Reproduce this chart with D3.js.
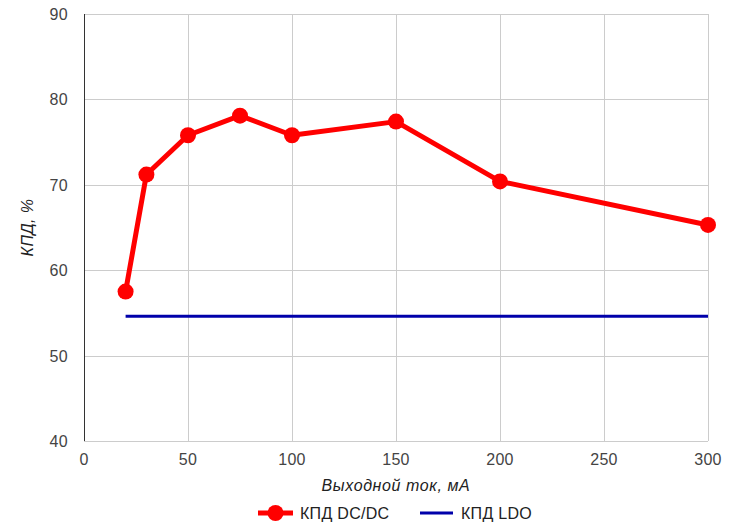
<!DOCTYPE html>
<html><head><meta charset="utf-8">
<script src="https://cdn.jsdelivr.net/npm/d3@7"></script>
<style>body{margin:0;background:#fff;}svg{display:block;font-family:"Liberation Sans",Arial,sans-serif;}</style>
</head><body>
<script>
const currents = [20, 30, 50, 75, 100, 150, 200, 300];
const dcdcEff = [57.5, 71.2, 75.8, 78.1, 75.8, 77.4, 70.4, 65.3];
const ldoEff = [54.6, 54.6, 54.6, 54.6, 54.6, 54.6, 54.6, 54.6];
const xTicks = [0, 50, 100, 150, 200, 250, 300];
const yTicks = [40, 50, 60, 70, 80, 90];
const seriesNames = ["КПД DC/DC", "КПД LDO"];
const xTitle = "Выходной ток, мА";
const yTitle = "КПД, %";

const W = 735, H = 522;
const m = {l: 84, r: 27, t: 14, b: 81};
const svg = d3.select("body").append("svg").attr("width", W).attr("height", H);
const x = d3.scaleLinear().domain([0, 300]).range([m.l, W - m.r]);
const y = d3.scaleLinear().domain([40, 90]).range([H - m.b, m.t]);

// grid
svg.append("g").selectAll("line").data(xTicks.slice(1)).join("line")
  .attr("x1", d => Math.round(x(d)) + 0.5).attr("x2", d => Math.round(x(d)) + 0.5)
  .attr("y1", y(90)).attr("y2", y(40)).attr("stroke", "#cccccc").attr("stroke-width", 1);
svg.append("g").selectAll("line").data(yTicks).join("line")
  .attr("x1", x(0)).attr("x2", x(300))
  .attr("y1", d => Math.round(y(d)) + 0.5).attr("y2", d => Math.round(y(d)) + 0.5)
  .attr("stroke", "#cccccc").attr("stroke-width", 1);
// left axis line
svg.append("line").attr("x1", Math.round(x(0)) + 0.5).attr("x2", Math.round(x(0)) + 0.5)
  .attr("y1", y(90)).attr("y2", y(40)).attr("stroke", "#333").attr("stroke-width", 1);

// tick labels
svg.append("g").selectAll("text").data(yTicks).join("text")
  .attr("x", x(0) - 16).attr("y", d => y(d) + 6).attr("text-anchor", "end")
  .attr("font-size", 16).attr("letter-spacing", 0.3).attr("fill", "#444").text(d => d);
svg.append("g").selectAll("text").data(xTicks).join("text")
  .attr("x", d => x(d)).attr("y", y(40) + 24).attr("text-anchor", "middle")
  .attr("font-size", 16).attr("letter-spacing", 0.3).attr("fill", "#444").text(d => d);

// titles
svg.append("text").attr("x", (x(0) + x(300)) / 2).attr("y", 491).attr("text-anchor", "middle")
  .attr("font-size", 16).attr("letter-spacing", 0.6).attr("font-style", "italic").attr("fill", "#222").text(xTitle);
svg.append("text").attr("transform", `translate(33,${(y(90) + y(40)) / 2}) rotate(-90)`)
  .attr("text-anchor", "middle").attr("font-size", 16).attr("letter-spacing", 0.4).attr("font-style", "italic")
  .attr("fill", "#222").text(yTitle);

// LDO line
const line = d3.line().x((d, i) => x(currents[i])).y(d => y(d));
svg.append("path").datum(ldoEff).attr("d", line).attr("fill", "none")
  .attr("stroke", "#0000aa").attr("stroke-width", 3);
// DC/DC line
svg.append("path").datum(dcdcEff).attr("d", line).attr("fill", "none")
  .attr("stroke", "#ff0000").attr("stroke-width", 5).attr("stroke-linejoin", "round");
svg.append("g").selectAll("circle").data(dcdcEff).join("circle")
  .attr("cx", (d, i) => x(currents[i])).attr("cy", d => y(d)).attr("r", 8).attr("fill", "#ff0000");

// legend
const ly = 513;
svg.append("line").attr("x1", 258).attr("x2", 293).attr("y1", ly).attr("y2", ly)
  .attr("stroke", "#ff0000").attr("stroke-width", 5);
svg.append("circle").attr("cx", 275.5).attr("cy", ly).attr("r", 8).attr("fill", "#ff0000");
svg.append("text").attr("x", 300).attr("y", ly + 6).attr("font-size", 16).attr("letter-spacing", 0.3).attr("fill", "#222").text(seriesNames[0]);
svg.append("line").attr("x1", 420).attr("x2", 453).attr("y1", ly).attr("y2", ly)
  .attr("stroke", "#0000aa").attr("stroke-width", 3);
svg.append("text").attr("x", 461).attr("y", ly + 6).attr("font-size", 16).attr("letter-spacing", 0.3).attr("fill", "#222").text(seriesNames[1]);
</script>
</body></html>
